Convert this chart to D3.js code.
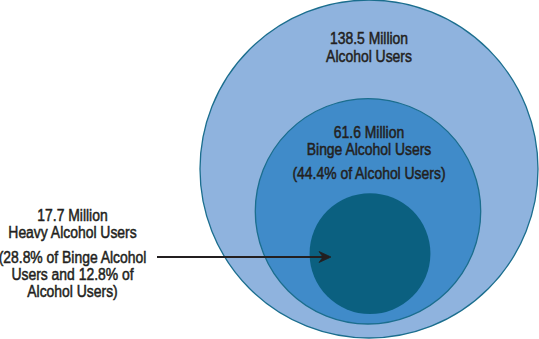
<!DOCTYPE html>
<html>
<head>
<meta charset="utf-8">
<script src="https://cdn.jsdelivr.net/npm/d3@7"></script>
<style>
  html, body { margin: 0; padding: 0; background: #ffffff; }
  svg { display: block; }
  text { font-family: "Liberation Sans", Arial, sans-serif; fill: #231f20; stroke: #231f20; stroke-width: 0.5; }
</style>
</head>
<body>
<svg id="chart" width="539" height="339"></svg>
<script>
// Nested groups of past-month alcohol users (millions)
const groups   = ["Alcohol Users", "Binge Alcohol Users", "Heavy Alcohol Users"];
const millions = [138.5, 61.6, 17.7];
const shares   = ["", "(44.4% of Alcohol Users)", "(28.8% of Binge Alcohol|Users and 12.8% of|Alcohol Users)"];
const fills    = ["#8fb3de", "#408bc9", "#0b6080"];

const W = 539, H = 339;
const svg = d3.select("#chart");

// circle area proportional to the number of users
const r = d3.scaleSqrt().domain([0, d3.max(millions)]).range([0, 169]);

// each circle sits near the bottom of the one that contains it
const outerBottom = 338;
const bottomGap = [0, 14, 10];
const centreX = [369, 368, 370];
const circles = [];
let bottom = outerBottom;
millions.forEach((v, i) => {
  bottom -= bottomGap[i];
  circles.push({ name: groups[i], value: v, cx: centreX[i], cy: bottom - r(v), r: r(v), fill: fills[i] });
});

svg.selectAll("circle.group")
  .data(circles)
  .join("circle")
  .attr("class", "group")
  .attr("cx", d => d.cx)
  .attr("cy", d => d.cy)
  .attr("r", d => d.r)
  .attr("fill", d => d.fill)
  .attr("stroke", (d, i) => i < 2 ? "#1b6e8e" : "none")
  .attr("stroke-width", 1.3);

const fmt = v => d3.format(".1f")(v) + " Million";

// condensed label block centred on x
const narrow = 0.87;
function label(x, lines) {
  const g = svg.append("g").attr("transform", `translate(${x},0) scale(${narrow},1)`);
  const t = g.append("text").attr("text-anchor", "middle").attr("font-size", 16);
  lines.forEach(([s, y]) => t.append("tspan").attr("x", 0).attr("y", y).text(s));
}

// labels inside the two larger circles
label(369, [[fmt(millions[0]), 44], [groups[0], 62]]);
label(369, [[fmt(millions[1]), 138], [groups[1], 155], [shares[1], 179]]);

// callout for the heavy-use circle
const shareY = [263, 280, 297];
label(72.5, [[fmt(millions[2]), 221], [groups[2], 238]]
  .concat(shares[2].split("|").map((s, i) => [s, shareY[i]])));

const ay = 257, ax0 = 157, ax1 = 331;
svg.append("line")
  .attr("x1", ax0).attr("x2", ax1 - 4)
  .attr("y1", ay).attr("y2", ay)
  .attr("stroke", "#231f20").attr("stroke-width", 2);
svg.append("path")
  .attr("d", `M${ax1},${ay} L${ax1 - 12},${ay - 5.5} L${ax1 - 8},${ay} L${ax1 - 12},${ay + 5.5} Z`)
  .attr("fill", "#231f20")
  .attr("stroke", "#231f20")
  .attr("stroke-width", 0.8)
  .attr("stroke-linejoin", "miter");
</script>
</body>
</html>
